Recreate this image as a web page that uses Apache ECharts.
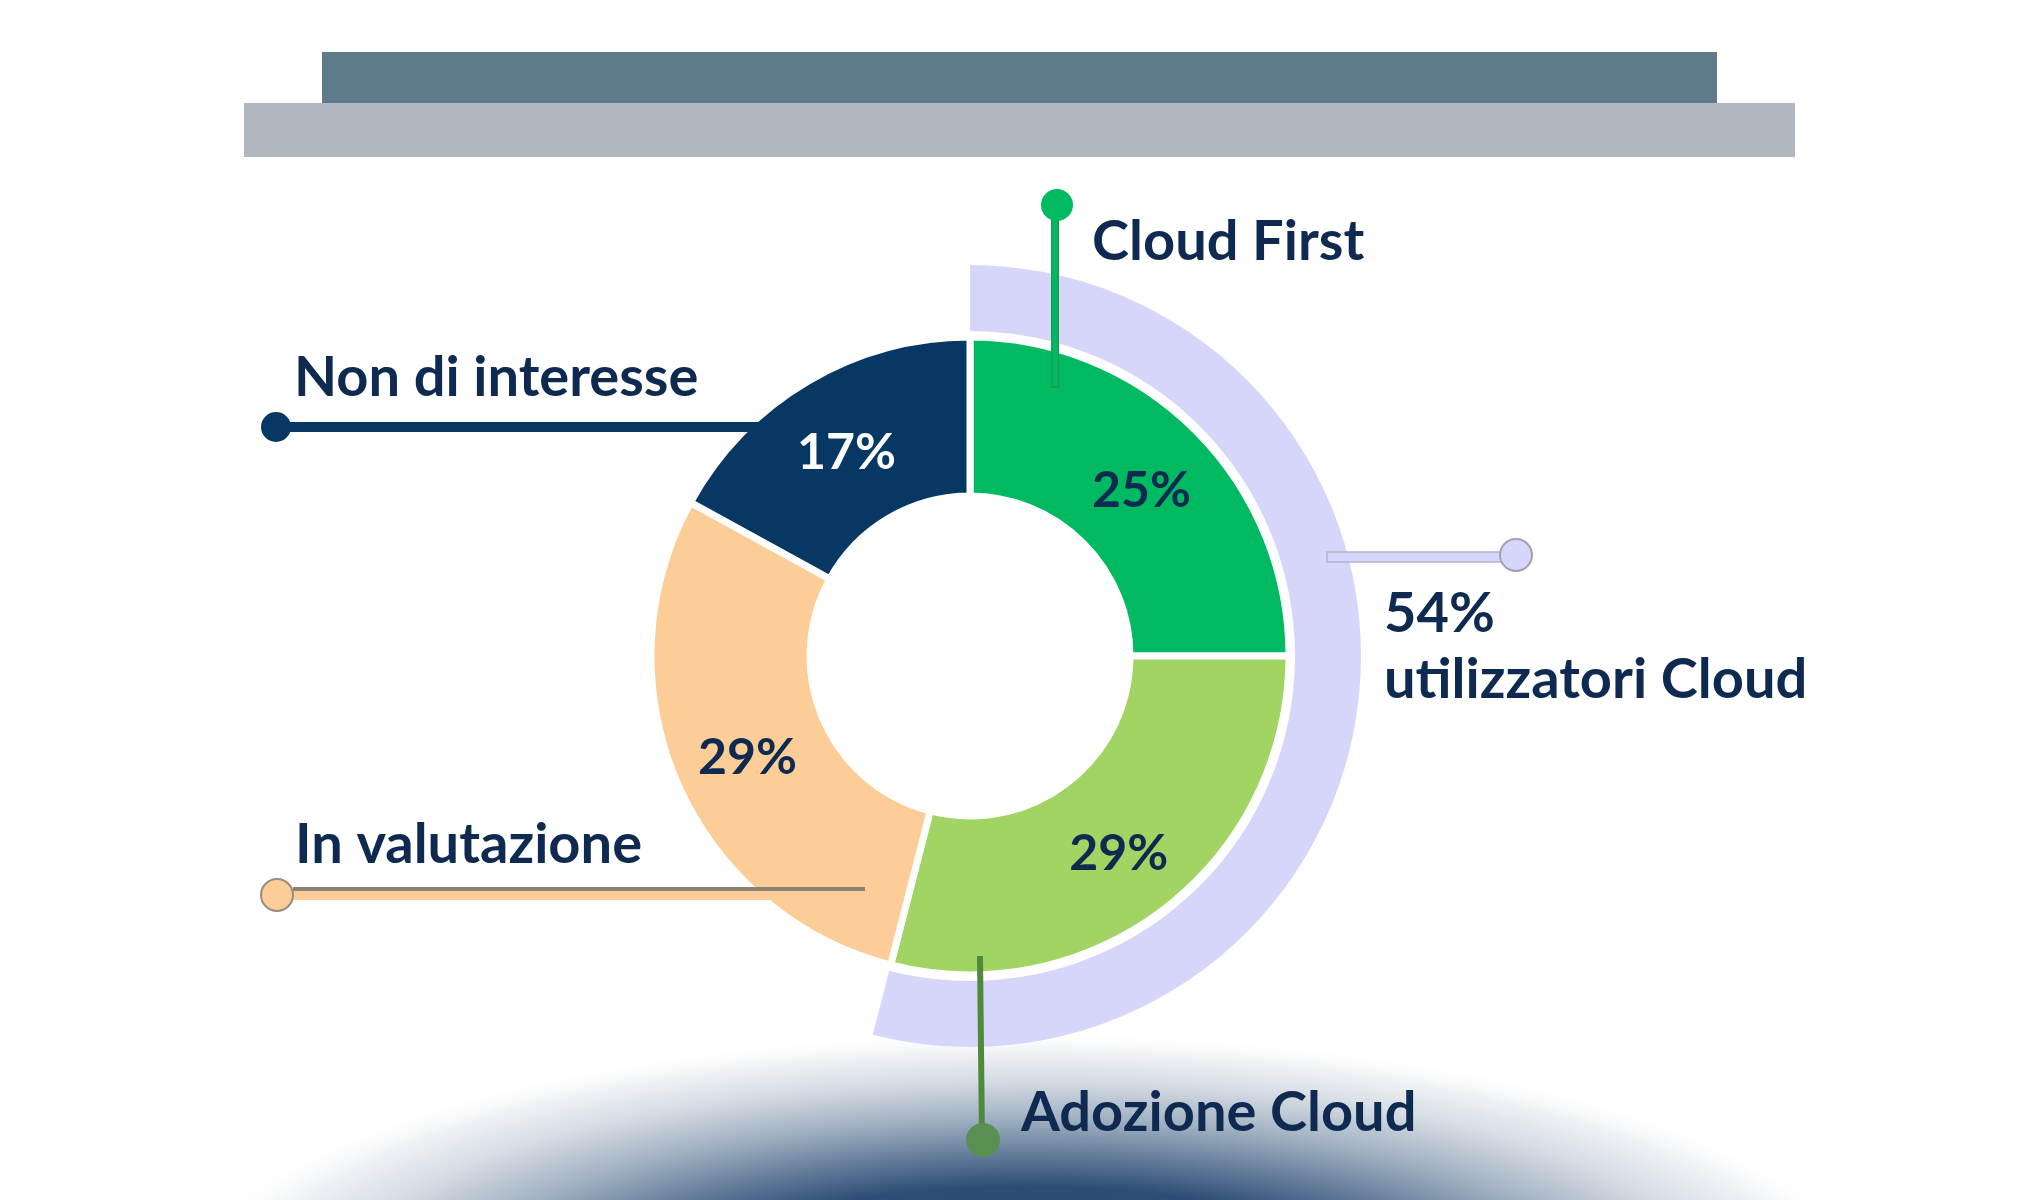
<!DOCTYPE html>
<html>
<head>
<meta charset="utf-8">
<script src="https://cdn.jsdelivr.net/npm/echarts@6/dist/echarts.min.js"></script>
<style>
html,body{margin:0;padding:0;background:#fff;}
#chart{width:2040px;height:1200px;}
</style>
</head>
<body>
<div id="chart"></div>
<script>
// ---- data ----
const categories = ['Cloud First', 'Adozione Cloud', 'In valutazione', 'Non di interesse'];
const shares = [25, 29, 29, 17];
const cloudUsers = [54, 46];
const cloudUsersLabel = 'utilizzatori Cloud';

// ---- styles ----
const sliceColors = ['#00B960', '#A1D462', '#FDCD98', '#073763'];
const sliceLabelColors = ['#0E2A50', '#0E2A50', '#0E2A50', '#FFFFFF'];
const lavender = '#D6D6FA';
const textColor = '#0E2A50';
const FONT = 'Lato';

const chart = echarts.init(document.getElementById('chart'), null, {renderer: 'canvas'});

const C = [970, 656];

function txt(text, x, y, size) {
  return {type: 'text', x: x, y: y, z: 120,
    style: {text: text, fill: textColor, font: 'bold ' + size + 'px ' + FONT, textVerticalAlign: 'middle', textAlign: 'left'}};
}
function seg(x1, y1, x2, y2, color, w) {
  return {type: 'line', z: 110, shape: {x1: x1, y1: y1, x2: x2, y2: y2}, style: {stroke: color, lineWidth: w}};
}
function dot(x, y, r, color, stroke) {
  return {type: 'circle', z: 111, shape: {cx: x, cy: y, r: r},
    style: {fill: color, stroke: stroke || null, lineWidth: stroke ? 2 : 0}};
}

const option = {
  backgroundColor: '#ffffff',
  animation: false,
  graphic: {elements: [
    {type: 'rect', z: -10, shape: {x: 244, y: 103, width: 1551, height: 54}, style: {fill: '#B0B7BE'}},
    {type: 'rect', z: -10, shape: {x: 322, y: 52, width: 1395, height: 51}, style: {fill: '#5E7A8B'}},
    {type: 'circle', z: -20, x: 1026, y: 1300, scaleX: 3.21, scaleY: 1,
      shape: {cx: 0, cy: 0, r: 270},
      style: {fill: {type: 'radial', x: 0.5, y: 0.5, r: 0.5, colorStops: [
        {offset: 0, color: '#1f3d66'},
        {offset: 0.42, color: '#2e4d74'},
        {offset: 0.52, color: '#5a7494'},
        {offset: 0.67, color: '#9fafc1'},
        {offset: 0.82, color: '#d8dee5'},
        {offset: 0.92, color: '#f0f2f5'},
        {offset: 1, color: 'rgba(255,255,255,0)'}
      ]}}},
    // Cloud First
    seg(1055, 205, 1055, 388, '#1f9a55', 8),
    seg(1055, 205, 1055, 386, '#00B960', 5),
    dot(1057, 205, 16, '#00B960'),
    txt(categories[0], 1092, 242, 56),
    // Non di interesse
    seg(276, 427, 776, 427, '#073763', 10),
    dot(276, 427, 15, '#073763'),
    txt(categories[3], 294, 378, 56),
    // In valutazione
    seg(277, 895, 865, 895, '#FDCD98', 10),
    seg(293, 889, 865, 889, '#8E8174', 4),
    dot(277, 895, 16, '#FDCD98', '#9A8C7C'),
    txt(categories[2], 295, 845, 56),
    // 54% utilizzatori Cloud
    {type: 'rect', z: 110, shape: {x: 1327, y: 552, width: 189, height: 10}, style: {fill: lavender, stroke: '#B4B4C8', lineWidth: 1.5}},
    dot(1516, 555, 16, lavender, '#A0A0B4'),
    txt(cloudUsers[0] + '%', 1384, 614, 56),
    txt(cloudUsersLabel, 1384, 680, 56),
    // Adozione Cloud
    seg(980, 956, 982, 1140, '#4E8A3C', 6),
    dot(983, 1140, 17, '#5A8F52'),
    txt(categories[1], 1021, 1113, 56)
  ]},
  series: [
    {
      type: 'pie',
      silent: true,
      center: C,
      radius: [325, 391],
      startAngle: 90,
      clockwise: true,
      label: {show: false},
      labelLine: {show: false},
      data: cloudUsers.map((v, i) => ({value: v, itemStyle: {color: i === 0 ? lavender : 'rgba(0,0,0,0)'}}))
    },
    {
      type: 'pie',
      silent: true,
      center: C,
      radius: [160, 319],
      startAngle: 90,
      clockwise: true,
      itemStyle: {borderColor: '#ffffff', borderWidth: 7},
      label: {show: true, position: 'inside', fontFamily: FONT, fontWeight: 'bold', fontSize: 50,
        offset: [0, 6],
        formatter: p => p.value + '%'},
      labelLine: {show: false},
      data: categories.map((name, i) => ({
        name: name, value: shares[i],
        itemStyle: {color: sliceColors[i]},
        label: {color: sliceLabelColors[i]}
      }))
    }
  ]
};
chart.setOption(option);
</script>
</body>
</html>
